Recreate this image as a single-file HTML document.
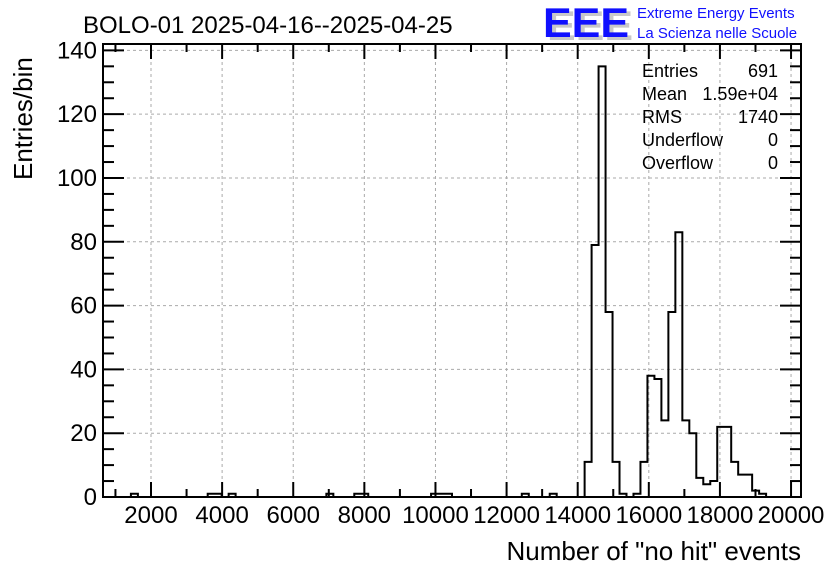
<!DOCTYPE html>
<html><head><meta charset="utf-8"><style>
html,body{margin:0;padding:0;background:#fff;}
svg{display:block;font-family:"Liberation Sans",sans-serif;}
</style></head><body>
<svg id="chart" width="836" height="572">
<text x="83" y="33" font-size="24">BOLO-01 2025-04-16--2025-04-25</text>
<g>
<text x="547" y="40" font-size="42" font-weight="bold" fill="#c8c8c8" textLength="86" lengthAdjust="spacingAndGlyphs">EEE</text>
<text x="543" y="37" font-size="42" font-weight="bold" fill="#1010ff" textLength="86" lengthAdjust="spacingAndGlyphs">EEE</text>
<text x="637" y="18" font-size="15" fill="#1010ff">Extreme Energy Events</text>
<text x="637" y="38" font-size="15" fill="#1010ff">La Scienza nelle Scuole</text>
</g>
<g id="grid"></g>
<g id="ticks"></g>
<path id="hist" fill="none" stroke="#000" stroke-width="2"/>
<rect x="103" y="44" width="698" height="453" fill="none" stroke="#000" stroke-width="2"/>
<g id="xlabels" font-size="24" text-anchor="middle"></g>
<g id="ylabels" font-size="24" text-anchor="end"></g>
<text x="801" y="560" font-size="26" text-anchor="end">Number of "no hit" events</text>
<text transform="translate(32,180) rotate(-90)" font-size="26">Entries/bin</text>
<g font-size="18">
<text x="642" y="77">Entries</text><text x="778" y="77" text-anchor="end">691</text>
<text x="642" y="100">Mean</text><text x="778" y="100" text-anchor="end">1.59e+04</text>
<text x="642" y="123">RMS</text><text x="778" y="123" text-anchor="end">1740</text>
<text x="642" y="146">Underflow</text><text x="778" y="146" text-anchor="end">0</text>
<text x="642" y="169">Overflow</text><text x="778" y="169" text-anchor="end">0</text>
</g>
</svg>
<script>
const xMin = 650, xMax = 20280, nBins = 100;
const binIndices = [4,15,16,18,32,36,37,47,48,49,60,64,
  69,70,71,72,73,74,75,76,77,78,79,80,81,82,83,84,85,86,87,88,89,90,91,92,93,94];
const binCounts = [1,1,1,1,1,1,1,1,1,1,1,1,
  11,79,135,58,11,1,0,1,11,38,37,24,58,83,24,20,6,4,5,22,22,11,7,7,2,1];
const xTicks = [2000,4000,6000,8000,10000,12000,14000,16000,18000,20000];
const yTicks = [0,20,40,60,80,100,120,140];
const yMax = 142;
const L=103,R=801,T=44,B=497;
const NS="http://www.w3.org/2000/svg";
const sx = v => L + (v - xMin) / (xMax - xMin) * (R - L);
const sy = v => B - v / yMax * (B - T);
function mk(tag, parent, attrs){const e=document.createElementNS(NS,tag);for(const k in attrs)e.setAttribute(k,attrs[k]);parent.appendChild(e);return e;}
const grid=document.getElementById('grid'), ticks=document.getElementById('ticks');
const xl=document.getElementById('xlabels'), yl=document.getElementById('ylabels');
xTicks.forEach(v=>{
  const x=sx(v);
  const g=mk('line',grid,{x1:x,x2:x,y1:T,y2:B,stroke:'#aaa','stroke-dasharray':'3,3'});
  
  
  const t=mk('text',xl,{x:x,y:523});t.textContent=v;
  
  
});
for(let v=1000;v<=20000;v+=500){
  const x=sx(v), len=(v%2000===0)?15:(v%1000===0?8:0);
  if(len===0) continue;
  mk('line',ticks,{x1:x,x2:x,y1:B,y2:B-len,stroke:'#000','stroke-width':2});
  mk('line',ticks,{x1:x,x2:x,y1:T,y2:T+len,stroke:'#000','stroke-width':2});
}
yTicks.forEach(v=>{
  const y=sy(v);
  if(v>0){const g=mk('line',grid,{x1:L,x2:R,y1:y,y2:y,stroke:'#aaa','stroke-dasharray':'3,3'});
  
  }
  const t=mk('text',yl,{x:97,y:y+8});t.textContent=v;
  
  
});
for(let v=0;v<=140;v+=5){
  const y=sy(v), len=(v%20===0)?21:11;
  mk('line',ticks,{x1:L,x2:L+len,y1:y,y2:y,stroke:'#000','stroke-width':2});
  mk('line',ticks,{x1:R,x2:R-len,y1:y,y2:y,stroke:'#000','stroke-width':2});
}
const counts=new Array(nBins).fill(0);
binIndices.forEach((b,i)=>counts[b]=binCounts[i]);
const w=(xMax-xMin)/nBins;
let d='M'+sx(xMin)+','+sy(0);
for(let i=0;i<nBins;i++){
  const x0=sx(xMin+i*w), x1=sx(xMin+(i+1)*w), y=sy(counts[i]);
  d+=' L'+x0+','+y+' L'+x1+','+y;
}
document.getElementById('hist').setAttribute('d',d);
</script>
</body></html>
